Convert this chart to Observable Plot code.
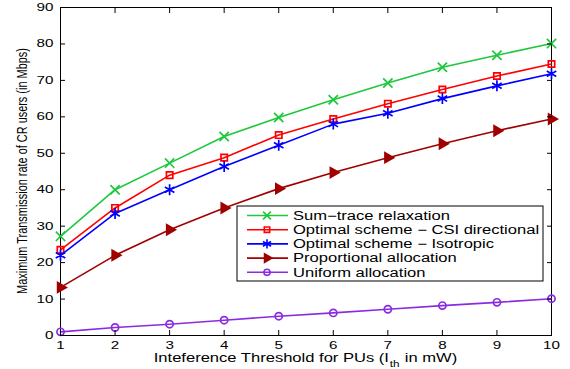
<!DOCTYPE html>
<html>
<head>
<meta charset="utf-8">
<script src="https://cdn.jsdelivr.net/npm/d3@7"></script>
<script src="https://cdn.jsdelivr.net/npm/@observablehq/plot@0.6"></script>
<style>
  html, body { margin: 0; padding: 0; background: #fff; }
  svg { font-family: "Liberation Sans", Arial, Helvetica, sans-serif; }
</style>
</head>
<body>
<div id="chart"></div>
<script>
const thresholds = [1, 2, 3, 4, 5, 6, 7, 8, 9, 10];
const sumTrace = [27.2, 40.0, 47.3, 54.6, 59.8, 64.7, 69.3, 73.6, 76.9, 80.1];
const optimalCSI = [23.5, 35.0, 44.0, 48.8, 55.0, 59.4, 63.6, 67.5, 71.2, 74.5];
const optimalIso = [22.0, 33.5, 40.0, 46.4, 52.2, 58.0, 61.0, 65.0, 68.5, 71.8];
const proportional = [13.2, 22.0, 29.0, 35.0, 40.3, 44.7, 48.8, 52.6, 56.2, 59.4];
const uniform = [1.0, 2.2, 3.1, 4.2, 5.3, 6.2, 7.2, 8.2, 9.1, 10.1];
const seriesNames = [
  "Sum\u2212trace relaxation",
  "Optimal scheme \u2212 CSI directional",
  "Optimal scheme \u2212 Isotropic",
  "Proportional allocation",
  "Uniform allocation"
];
const yTicks = [0, 10, 20, 30, 40, 50, 60, 70, 80, 90];
const xLabelMain = "Inteference Threshold for PUs (I";
const xLabelSub = "th";
const xLabelEnd = " in mW)";
const yLabel = "Maximum Transmission rate of CR users (in Mbps)";

const seriesValues = [sumTrace, optimalCSI, optimalIso, proportional, uniform];
const colors = ["#1ec83c", "#ff0000", "#0000ff", "#a00000", "#8a2be2"];
const symbols = ["times", "square", "asterisk", "triangle", "circle"];
const rotations = [0, 0, 0, 90, 0];
const sizes = [4.3, 3.6, 5.2, 3.7, 3.6];
const fills = ["none", "none", "none", "#a00000", "none"];
const STRETCH = 1.38; // horizontal stretch of text seen in the reference

const data = [];
seriesNames.forEach((name, i) => {
  thresholds.forEach((t, j) => data.push({series: name, x: t, y: seriesValues[i][j]}));
});

const marks = [Plot.frame({stroke: "black", strokeWidth: 1})];
seriesNames.forEach((name, i) => {
  const d = data.filter(r => r.series === name);
  marks.push(Plot.line(d, {x: "x", y: "y", stroke: colors[i], strokeWidth: 1.6}));
  marks.push(Plot.dot(d, {x: "x", y: "y", stroke: colors[i], symbol: symbols[i], r: sizes[i], rotate: rotations[i], strokeWidth: 1.7, fill: fills[i]}));
});

marks.push(
  Plot.axisX({ticks: thresholds, tickSize: -5, tickPadding: 11, fontSize: 11, anchor: "bottom", label: null}),
  Plot.axisX({ticks: thresholds, tickSize: -5, anchor: "top", tickFormat: () => "", label: null}),
  Plot.axisY({ticks: yTicks, tickSize: -5, tickPadding: 12, fontSize: 11, anchor: "left", label: null}),
  Plot.axisY({ticks: yTicks, tickSize: -5, anchor: "right", tickFormat: () => "", label: null})
);

const chart = Plot.plot({
  width: 570,
  height: 369,
  marginLeft: 60,
  marginRight: 19,
  marginTop: 7,
  marginBottom: 34,
  x: {domain: [1, 10]},
  y: {domain: [0, 90]},
  style: {fontFamily: "'Liberation Sans', Arial, sans-serif", color: "black", background: "white", overflow: "visible"},
  marks
});
document.getElementById("chart").appendChild(chart);

const svg = d3.select(chart);
// stretch tick labels horizontally like the reference
svg.selectAll('g[aria-label="x-axis tick label"] text, g[aria-label="y-axis tick label"] text')
  .each(function() {
    const t = this.getAttribute("transform") || "";
    this.setAttribute("transform", t + ` scale(${STRETCH},1)`);
  });

const xs = chart.scale("x"), ys = chart.scale("y");

// x-axis label with subscript, built from separate text pieces
const xl = svg.append("g");
const inner = xl.append("g");
const t1 = inner.append("text").attr("x", 0).attr("y", 0).attr("text-anchor", "start").attr("font-size", 12).attr("fill", "black").text(xLabelMain);
const w1 = t1.node().getComputedTextLength();
const t2 = inner.append("text").attr("x", w1 + 0.5).attr("y", 5).attr("text-anchor", "start").attr("font-size", 8.5).attr("fill", "black").text(xLabelSub);
const w2 = t2.node().getComputedTextLength();
const t3 = inner.append("text").attr("x", w1 + w2 + 1).attr("y", 0).attr("text-anchor", "start").attr("font-size", 12).attr("fill", "black").text(xLabelEnd);
const w3 = t3.node().getComputedTextLength();
const totalW = w1 + w2 + 1 + w3;
const cx = (xs.apply(1) + xs.apply(10)) / 2;
xl.attr("transform", `translate(${cx},361.5) scale(${STRETCH},1)`);
inner.attr("transform", `translate(${-totalW / 2},0)`);

// y-axis label (condensed along its length as in the reference)
const yl = svg.append("text")
  .attr("text-anchor", "middle")
  .attr("font-size", 14)
  .attr("fill", "black")
  .text(yLabel);
const yLen = yl.node().getComputedTextLength();
const k = 246 / yLen;
yl.attr("transform", `translate(27,${(ys.apply(0) + ys.apply(90)) / 2}) rotate(-90) scale(${k},1)`);

// Legend
const lg = svg.append("g");
const lx = 237, ly = 206, lw = 306, lh = 75;
lg.append("rect").attr("x", lx).attr("y", ly).attr("width", lw).attr("height", lh)
  .attr("fill", "white").attr("stroke", "black").attr("stroke-width", 1);
const symGen = [d3.symbolTimes, d3.symbolSquare, d3.symbolAsterisk, d3.symbolTriangle, d3.symbolCircle];
seriesNames.forEach((name, i) => {
  const yy = ly + 9.5 + i * 14.2;
  lg.append("line").attr("x1", lx + 10).attr("x2", lx + 51).attr("y1", yy).attr("y2", yy)
    .attr("stroke", colors[i]).attr("stroke-width", 1.6);
  const s = sizes[i] * 0.85;
  lg.append("path").attr("d", d3.symbol(symGen[i], Math.PI * s * s)())
    .attr("transform", `translate(${lx + 30},${yy}) rotate(${rotations[i]})`)
    .attr("fill", fills[i]).attr("stroke", colors[i]).attr("stroke-width", 1.6);
  lg.append("text")
    .attr("transform", `translate(${lx + 56},${yy + 4.3}) scale(${STRETCH},1)`)
    .attr("text-anchor", "start").attr("font-size", 12).attr("fill", "black").text(name);
});
</script>
</body>
</html>
